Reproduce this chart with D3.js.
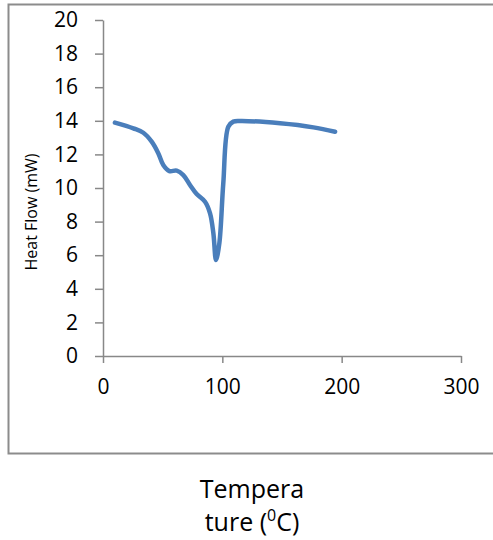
<!DOCTYPE html>
<html>
<head>
<meta charset="utf-8">
<script src="https://cdn.jsdelivr.net/npm/d3@7"></script>
<style>
  body { margin: 0; background: #fff; }
  svg { display: block; }
</style>
</head>
<body>
<div id="chart"></div>
<script>
// temperature (C) and heat flow (mW)
var temperature = [10, 25.4, 33.8, 40.8, 46.4, 50.5, 55.6, 61.8, 67.3, 72.9, 78.5, 85.5, 89.7, 92.5, 94.7, 97.5, 100.8, 105, 109.2, 114.8, 148.4, 176.3, 194.5];
var heatFlow    = [13.89, 13.55, 13.29, 12.76, 12.06, 11.37, 11.01, 11.03, 10.77, 10.18, 9.64, 9.18, 8.49, 7.3, 5.71, 6.71, 10.28, 13.65, 13.95, 13.99, 13.85, 13.61, 13.35];
var xTicks = [0, 100, 200, 300];
var yTicks = [0, 2, 4, 6, 8, 10, 12, 14, 16, 18, 20];

var fontFam = '"Open Sans", "Liberation Sans", sans-serif';
var width = 493, height = 540;
var svg = d3.select('#chart')
      .append('svg')
      .attr('width', width)
      .attr('height', height);

// chart area border
svg.append('rect')
  .attr('x', 8.5)
  .attr('y', 4.5)
  .attr('width', 500)
  .attr('height', 449)
  .attr('fill', 'none')
  .attr('stroke', '#8c8c8c')
  .attr('stroke-width', 2);

var xScale = d3.scaleLinear().domain([0, 300]).range([103, 461]);
var yScale = d3.scaleLinear().domain([0, 20]).range([356, 20]);

// x axis
var xAxis = svg.append('g')
      .attr('transform', 'translate(0,' + yScale(0) + ')')
      .call(d3.axisBottom(xScale).tickValues(xTicks).tickSize(7).tickPadding(24).tickSizeOuter(0));
xAxis.selectAll('text').attr('dy', '0.35em');

// y axis
var yAxis = svg.append('g')
      .attr('transform', 'translate(' + xScale(0) + ',0)')
      .call(d3.axisLeft(yScale).tickValues(yTicks).tickSize(8).tickPadding(17).tickSizeOuter(0));

[xAxis, yAxis].forEach(function(ax) {
  ax.attr('font-family', fontFam).attr('font-size', 21);
  ax.selectAll('path, line').attr('stroke', '#888').attr('stroke-width', 1.5);
  ax.selectAll('text').attr('fill', '#000');
});

// data line
var line = d3.line()
      .x(function(d, i) { return xScale(temperature[i]); })
      .y(function(d) { return yScale(d); })
      .curve(d3.curveCatmullRom.alpha(0.5));

svg.append('path')
  .datum(heatFlow)
  .attr('d', line)
  .attr('fill', 'none')
  .attr('stroke', '#4a7ebb')
  .attr('stroke-width', 4.5)
  .attr('stroke-linecap', 'round')
  .attr('stroke-linejoin', 'round');

// y axis title
svg.append('text')
  .attr('transform', 'translate(37,212) rotate(-90)')
  .attr('text-anchor', 'middle')
  .attr('font-family', fontFam)
  .attr('font-size', 16)
  .attr('fill', '#000')
  .text('Heat Flow (mW)');

// x axis title, wrapped on two lines
var xt = svg.append('text')
      .attr('text-anchor', 'middle')
      .attr('font-family', fontFam)
      .attr('font-size', 25)
      .attr('fill', '#000');
xt.append('tspan').attr('x', 252).attr('y', 498).text('Tempera');
var t2 = xt.append('tspan').attr('x', 252).attr('y', 531);
t2.append('tspan').text('ture (');
t2.append('tspan').attr('dy', -10).attr('font-size', 16).text('0');
t2.append('tspan').attr('dy', 10).text('C)');
</script>
</body>
</html>
